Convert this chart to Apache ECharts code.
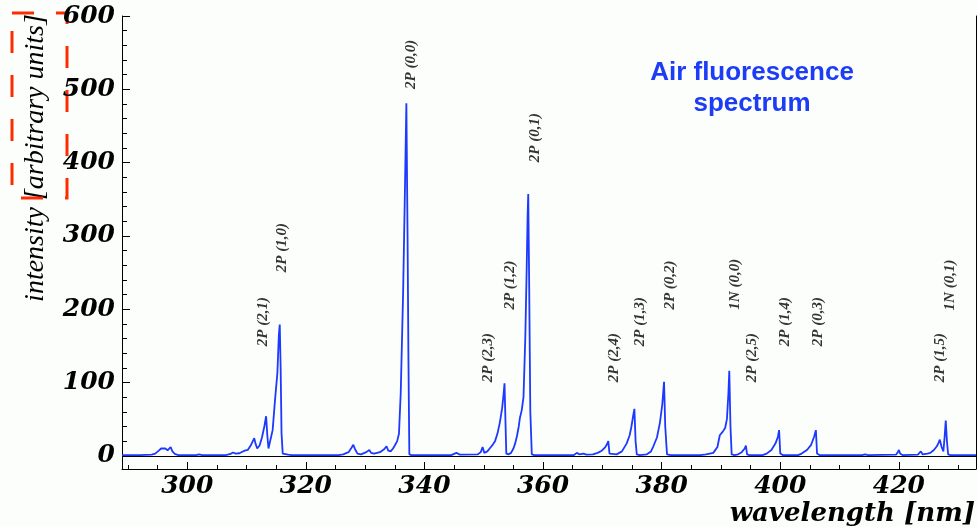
<!DOCTYPE html>
<html>
<head>
<meta charset="utf-8">
<script src="https://cdn.jsdelivr.net/npm/echarts@6/dist/echarts.min.js"></script>
<style>
html,body{margin:0;padding:0;background:#fbfefb;}
#chart{width:977px;height:527px;}
</style>
</head>
<body>
<div id="chart"></div>
<script>
// ---- data ----
const wavelength = [
289.0,292.0,294.0,294.6,295.2,295.6,295.9,296.3,296.7,297.0,297.2,297.5,297.9,298.5,
301.5,302.0,302.5,306.5,307.3,307.7,308.2,308.8,309.3,309.7,310.2,310.7,311.0,311.3,311.5,311.8,
312.2,312.6,313.0,313.3,313.5,313.7,314.0,314.4,314.8,315.2,315.45,315.6,315.75,315.9,316.1,316.4,
317.0,317.3,317.6,325.5,326.3,327.2,327.7,328.0,328.3,328.7,329.3,330.2,330.7,331.0,331.5,332.5,
333.2,333.6,333.9,334.3,334.7,335.0,335.4,335.7,336.0,336.4,336.7,336.95,337.15,337.3,337.45,337.8,
344.5,345.4,346.0,349.0,349.5,349.8,350.1,350.6,351.1,351.5,351.9,352.3,352.7,353.1,353.35,353.5,
353.65,353.8,354.2,354.6,355.0,355.3,355.6,355.9,356.1,356.4,356.7,357.0,357.2,357.4,357.5,357.65,
357.85,358.1,358.5,365.2,365.7,366.1,366.8,367.3,368.4,369.2,369.9,370.5,370.8,371.0,371.2,371.5,
372.4,373.3,374.1,374.6,374.9,375.2,375.4,375.6,375.8,376.3,377.5,378.2,378.6,379.2,379.7,380.1,
380.4,380.6,380.9,381.5,386.5,387.5,388.1,388.7,389.0,389.4,389.8,390.3,390.7,391.0,391.25,391.4,
391.6,391.8,392.3,392.9,393.5,394.0,394.2,394.4,394.8,397.0,397.7,398.5,399.2,399.6,399.8,400.0,
400.4,403.0,403.6,404.5,405.2,405.7,406.0,406.2,406.6,413.8,414.3,414.8,419.5,419.8,420.0,420.2,
420.6,423.2,423.7,424.0,424.8,425.3,425.9,426.4,426.7,426.9,427.2,427.5,427.7,427.9,428.1,428.3,
428.7,433.0
];
const intensity = [
1,1,1.5,3,7,10,12.5,10,7.5,10,12,6,2.5,1,
1,2,1,1,2.5,4.5,3,3.5,5.5,7,8,14,19,24,17,10,
14,25,40,54,28,10,12,35,76,113,165,179,120,31,3,1,
1.5,2.5,1,1,2,5,11,15,9,3,2,5,8,4,3,5,
9,13,7,6,10,14,20,30,86,222,359,481,300,131,2,1,
1,4,1.5,2,5,12,4,6,11,15,20,30,45,65,85,99,
50,3,2,4,10,17,27,40,52,62,80,160,240,330,357,240,
60,2,1,1,4,2,3,1.5,2,4,7,12,16,20,3,1,
2,6,17,28,40,55,64,20,2,1,2,6,13,25,45,70,
101,40,2,1,1,2,3,4,6,12,28,33,38,50,85,116,
40,2,1,2,5,10,14,2,1,1,3,8,17,26,35,3,
1,1,3,8,15,26,35,3,1,1,2,1,1.5,5,8,3,
1,1.5,6,2,3,4,8,13,18,22,12,6,25,48,20,2,
1,1
];
const peakNames = ['2P (2,1)','2P (1,0)','2P (0,0)','2P (2,3)','2P (1,2)','2P (0,1)','2P (2,4)','2P (1,3)',
  '2P (0,2)','1N (0,0)','2P (2,5)','2P (1,4)','2P (0,3)','2P (1,5)','1N (0,1)'];
const peakLabelX = [312.8,316.0,337.8,350.8,354.4,358.6,371.9,376.4,381.4,392.4,395.2,400.8,406.4,426.9,428.6];
const peakLabelY = [183,284,534,134,233,434,134,183,233,234,134,183,183,134,233];
const xLabelTicks = [300,320,340,360,380,400,420];
const xMinorTicks = [290,295,300,305,310,315,320,325,330,335,340,345,350,355,360,365,370,375,380,385,390,395,400,405,410,415,420,425,430];
const yLabelTicks = [0,100,200,300,400,500,600];
const yMinorTicks = [0,20,40,60,80,100,120,140,160,180,200,220,240,260,280,300,320,340,360,380,400,420,440,460,480,500,520,540,560,580,600];

// ---- chart ----
const chart = echarts.init(document.getElementById('chart'), null, {renderer:'canvas'});
const lineData = wavelength.map((w,i)=>[w,intensity[i]]);
const peakData = peakNames.map((n,i)=>({name:n, value:[peakLabelX[i], peakLabelY[i]]}));
const tickFont = {fontFamily:'DejaVu Serif', fontWeight:'bold', fontStyle:'italic', fontSize:25, color:'#000'};
const blue = '#1d38ff';

chart.setOption({
  backgroundColor:'#fbfefb',
  animation:false,
  title:{
    text:'Air fluorescence\nspectrum',
    left:747, top:52, textAlign:'center',
    textStyle:{fontFamily:'Liberation Sans', fontWeight:'bold', fontSize:26, color:'#1c3cf5', lineHeight:31}
  },
  grid:{left:122, right:1, top:16, bottom:58, containLabel:false},
  xAxis:[
    {type:'value', min:289, max:433, position:'bottom',
     axisLine:{show:true, onZero:false, lineStyle:{color:'#000', width:1}},
     axisTick:{show:true, inside:true, length:7, customValues:xLabelTicks, lineStyle:{color:'#000'}},
     axisLabel:{show:true, customValues:xLabelTicks, margin:5, ...tickFont},
     splitLine:{show:false}},
    {type:'value', min:289, max:433, position:'bottom',
     axisLine:{show:false, onZero:false},
     axisTick:{show:true, inside:true, length:4, customValues:xMinorTicks, lineStyle:{color:'#000'}},
     axisLabel:{show:false},
     splitLine:{show:false}}
  ],
  yAxis:[
    {type:'value', min:-18, max:600, position:'left',
     axisLine:{show:true, onZero:false, lineStyle:{color:'#000', width:1}},
     axisTick:{show:true, inside:true, length:8, customValues:yLabelTicks, lineStyle:{color:'#000'}},
     axisLabel:{show:true, customValues:yLabelTicks, margin:7, ...tickFont},
     splitLine:{show:false}},
    {type:'value', min:-18, max:600, position:'left',
     axisLine:{show:false, onZero:false},
     axisTick:{show:true, inside:true, length:5, customValues:yMinorTicks, lineStyle:{color:'#000'}},
     axisLabel:{show:false},
     splitLine:{show:false}},
    {type:'value', min:-18, max:600, position:'right',
     axisLine:{show:true, onZero:false, lineStyle:{color:'#000', width:1}},
     axisTick:{show:false}, axisLabel:{show:false}, splitLine:{show:false}}
  ],
  series:[
    {type:'line', xAxisIndex:0, yAxisIndex:0, data:lineData, showSymbol:false, symbol:'none',
     lineStyle:{color:blue, width:1.8}, z:3,
     markLine:{silent:true, symbol:'none', label:{show:false},
       lineStyle:{color:'#000', width:1, type:'solid'}, data:[{yAxis:0}], z:2}},
    {type:'scatter', xAxisIndex:0, yAxisIndex:0, data:peakData, symbolSize:0,
     label:{show:true, formatter:'{b}', position:'inside', rotate:90,
       fontFamily:'Liberation Serif', fontStyle:'italic', fontWeight:'bold', fontSize:15, color:'#000'}}
  ],
  graphic:[
    {type:'text', x:36, y:158, rotation:Math.PI/2,
     style:{text:'intensity [arbitrary units]', x:0, y:0, align:'center', verticalAlign:'middle',
       textAlign:'center', textVerticalAlign:'middle',
       fontFamily:'Liberation Serif', fontStyle:'italic', fontSize:28, fill:'#000'}},
    {type:'text', x:975, y:514,
     style:{text:'wavelength [nm]', x:0, y:0, align:'right', verticalAlign:'middle',
       textAlign:'right', textVerticalAlign:'middle',
       fontFamily:'DejaVu Serif', fontStyle:'italic', fontWeight:'bold', fontSize:26, fill:'#000'}},
    {type:'rect', shape:{x:12, y:13, width:55, height:185},
     style:{fill:'none', stroke:'#ff2a00', lineWidth:3, lineDash:[22,22]}}
  ]
});
</script>
</body>
</html>
